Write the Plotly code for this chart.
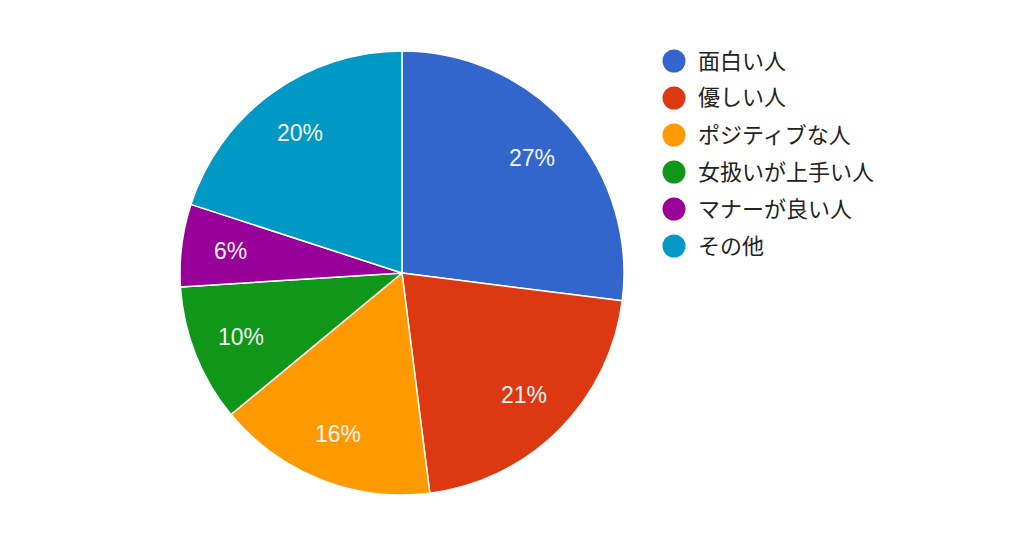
import math
import plotly.graph_objects as go

labels = ["面白い人", "優しい人", "ポジティブな人", "女扱いが上手い人", "マナーが良い人", "その他"]
values = [27, 21, 16, 10, 6, 20]
colors = ["#3366cc", "#dc3912", "#ff9900", "#109618", "#990099", "#0099c6"]

font_family = "Liberation Sans, Arial, Noto Sans CJK JP"
W, H = 1024, 538
# the page puts the plot 8px in from the top-left corner
cx, cy, R = 394, 265, 222

fig = go.Figure()
fig.add_trace(go.Pie(
    labels=labels,
    values=values,
    sort=False,
    direction="clockwise",
    rotation=0,
    marker=dict(colors=colors, line=dict(color="white", width=1.5)),
    textinfo="none",
    hoverinfo="label+percent",
    domain=dict(x=[(cx - R) / W, (cx + R) / W],
                y=[(H - cy - R) / H, (H - cy + R) / H]),
    showlegend=False,
))

annotations = []
shapes = []

# percentage labels, placed at mid-angle of each slice like google charts
total = sum(values)
acc = 0
for v in values:
    mid = (acc + v / 2) / total * 2 * math.pi
    acc += v
    rr = 0.78 * R
    annotations.append(dict(
        x=(cx + rr * math.sin(mid)) / W,
        y=(H - cy + rr * math.cos(mid)) / H,
        xref="paper", yref="paper", showarrow=False,
        xanchor="center", yanchor="middle",
        text=f"{round(v / total * 100)}%",
        font=dict(size=23, color="#f4f4f4", family=font_family),
    ))

# legend: circle + label, one row per category
x0 = 666 / W
y_top = 1 - 53 / H
step = 37 / H
r = 11.5
for i, (lab, col) in enumerate(zip(labels, colors)):
    yc = y_top - i * step
    shapes.append(dict(
        type="circle", xref="paper", yref="paper",
        xsizemode="pixel", ysizemode="pixel",
        xanchor=x0, yanchor=yc,
        x0=-r, x1=r, y0=-r, y1=r,
        fillcolor=col, line=dict(width=0),
    ))
    annotations.append(dict(
        x=688 / W, y=yc, xref="paper", yref="paper",
        xanchor="left", yanchor="middle", showarrow=False,
        text=lab, font=dict(size=22, color="#222222", family=font_family),
    ))

fig.update_layout(
    width=W, height=H,
    margin=dict(l=0, r=0, t=0, b=0),
    paper_bgcolor="white",
    plot_bgcolor="white",
    shapes=shapes,
    annotations=annotations,
)

fig.write_html("out.html")
